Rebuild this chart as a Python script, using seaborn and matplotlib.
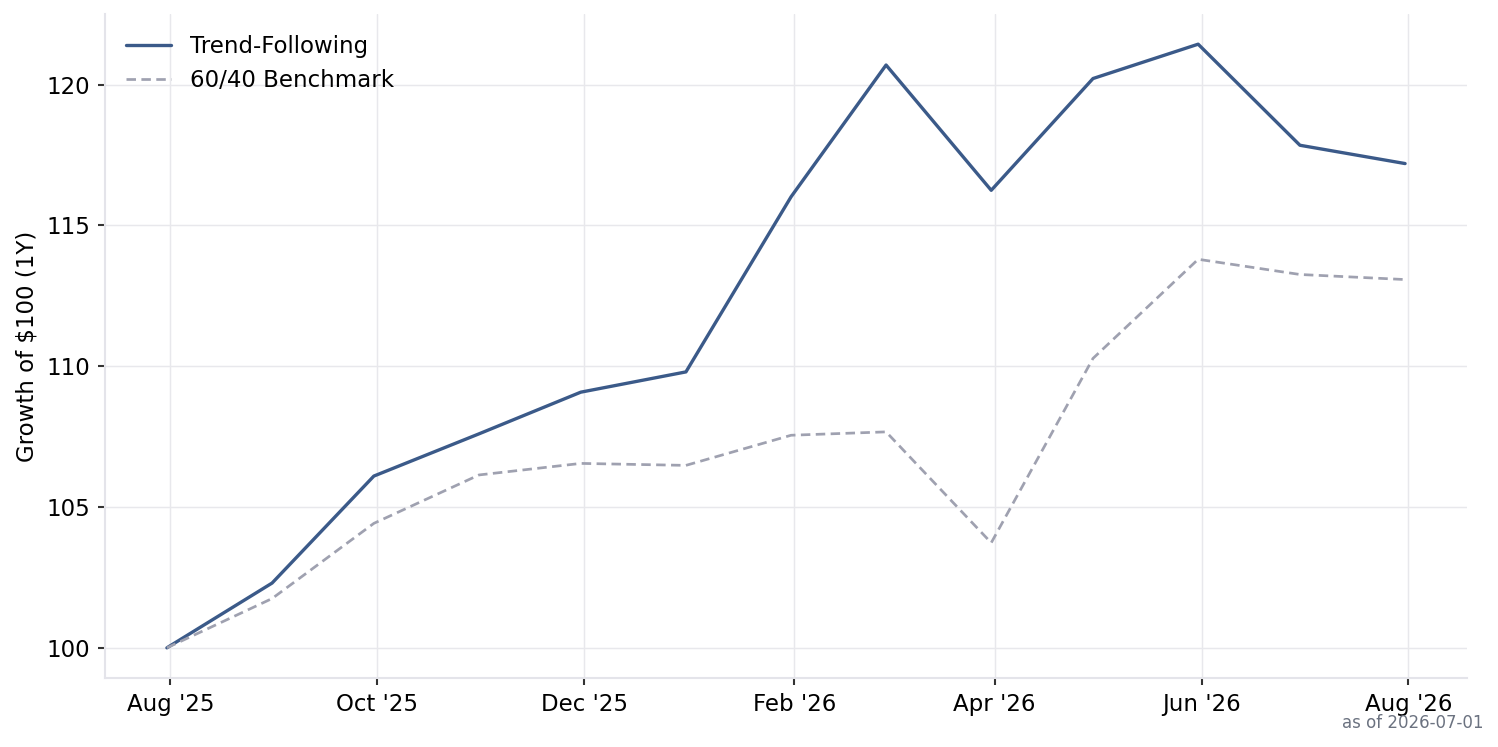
import numpy as np
import pandas as pd
import matplotlib
matplotlib.use("Agg")
import matplotlib.pyplot as plt
import matplotlib.dates as mdates
import seaborn as sns

dates = pd.date_range("2025-07-31", periods=13, freq="ME")
trend_following = [100.0, 102.3, 106.1, 107.6, 109.08, 109.8, 116.02, 120.7, 116.25, 120.22, 121.44, 117.85, 117.2]
benchmark_6040 = [100.0, 101.75, 104.42, 106.14, 106.55, 106.48, 107.55, 107.67, 103.73, 110.28, 113.8, 113.26, 113.08]
series_names = ["Trend-Following", "60/40 Benchmark"]
y_label = "Growth of $100 (1Y)"
note = "as of 2026-07-01"

df = pd.DataFrame({
    "date": list(dates) * 2,
    "value": trend_following + benchmark_6040,
    "series": [series_names[0]] * 13 + [series_names[1]] * 13,
})

sns.set_theme(style="whitegrid")
plt.rcParams["font.family"] = ["DejaVu Sans"]
plt.rcParams["xtick.major.size"] = 3.5
plt.rcParams["ytick.major.size"] = 3.5

fig = plt.figure(figsize=(1498 / 150, 747 / 150), dpi=150)
ax = fig.add_axes([105 / 1498, 1 - 678 / 747, (1467 - 105) / 1498, (678 - 14) / 747])

palette = {series_names[0]: "#3b5a89", series_names[1]: "#9fa1b0"}
sns.lineplot(data=df, x="date", y="value", hue="series", style="series",
             palette=palette, dashes={series_names[0]: "", series_names[1]: (3.5, 2)},
             ax=ax, linewidth=1.6)
lines = ax.get_lines()
if len(lines) >= 2:
    lines[1].set_linewidth(1.3)

ax.set_xlabel("")
ax.set_ylabel(y_label, fontsize=11, color="black")
ax.xaxis.set_major_locator(mdates.MonthLocator(bymonth=[2, 4, 6, 8, 10, 12]))
ax.xaxis.set_major_formatter(mdates.DateFormatter("%b '%y"))
ax.set_yticks([100, 105, 110, 115, 120])
ax.tick_params(axis="both", which="major", labelsize=11, color="#333333", length=3.5, width=1.0,
               bottom=True, left=True, labelcolor="black", direction="out")
ax.grid(True, color="#e8e8ec", linewidth=0.7)
for side in ["top", "right"]:
    ax.spines[side].set_visible(False)
for side in ["left", "bottom"]:
    ax.spines[side].set_color("#e4e4ea")
    ax.spines[side].set_linewidth(1.0)

leg = ax.legend(loc="upper left", frameon=False, fontsize=11, handlelength=2.0,
                labelspacing=0.5, borderaxespad=0.5)
for t in leg.get_texts():
    t.set_color("black")
lh = leg.get_lines()
if len(lh) >= 2:
    lh[0].set_linewidth(1.6)
    lh[1].set_linewidth(1.3)

fig.text(1483 / 1498, 1 - 723 / 747, note, ha="right", va="center", fontsize=8, color="#6b7280")

fig.savefig("out.png", dpi=150)
